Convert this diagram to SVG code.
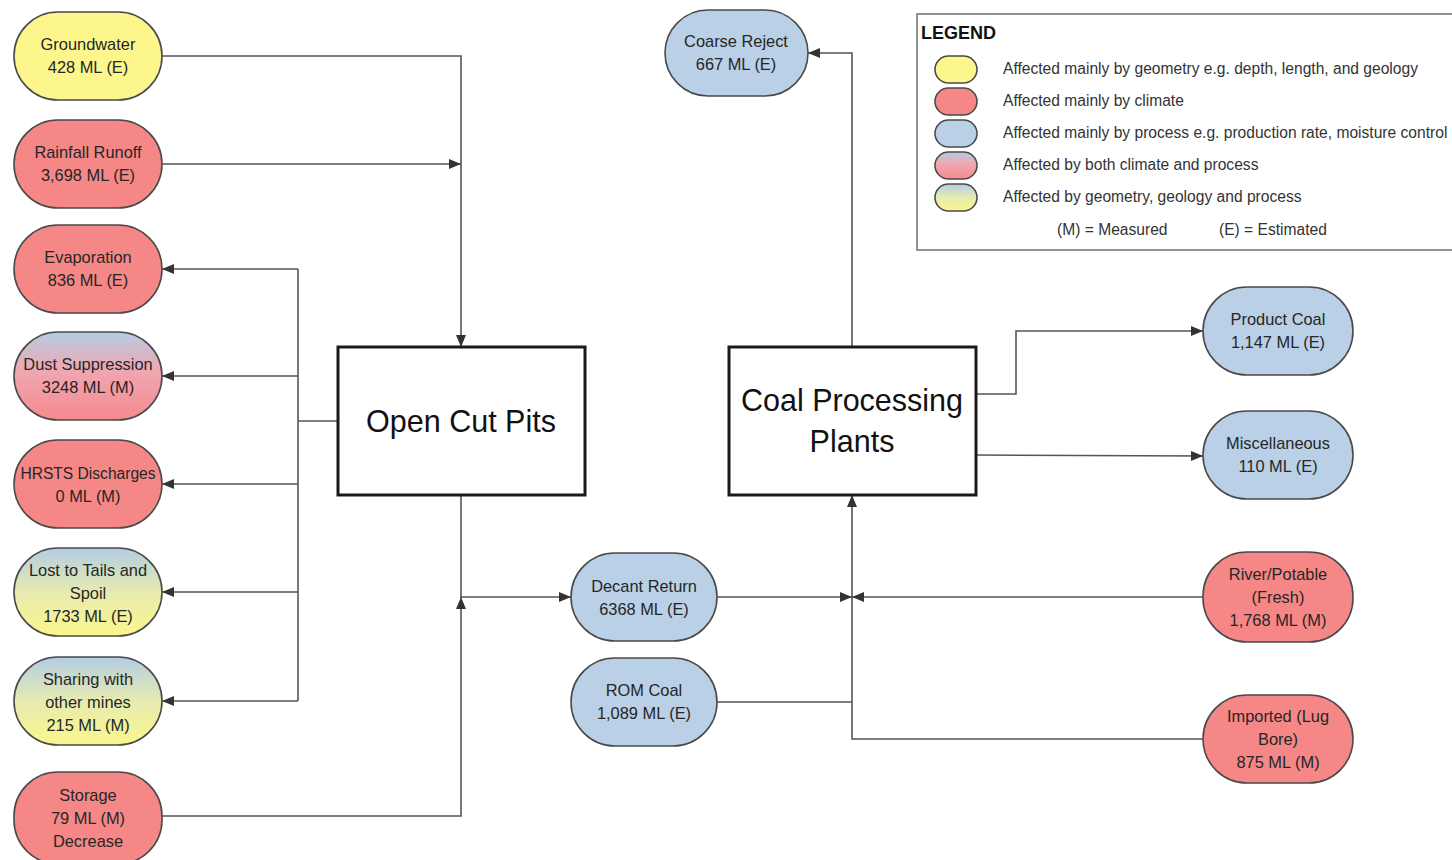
<svg xmlns="http://www.w3.org/2000/svg" width="1452" height="860" viewBox="0 0 1452 860">
  <style>
    .node { stroke: #4a4a4a; stroke-width: 1.6; }
    .yel { fill: #fcf68c; }
    .red { fill: #f58787; }
    .blu { fill: #b9d0e6; }
    .box { fill: #ffffff; stroke: #1a1a1a; stroke-width: 3; }
    .lbl { font-family: "Liberation Sans", Arial, sans-serif; font-size: 16.4px; fill: #262626; text-anchor: middle; }
    .tight { font-size: 15.6px; }
    .big { font-family: "Liberation Sans", Arial, sans-serif; font-size: 30.5px; fill: #111; text-anchor: middle; }
    .leg { font-family: "Liberation Sans", Arial, sans-serif; font-size: 15.6px; fill: #333; }
    .legt { font-family: "Liberation Sans", Arial, sans-serif; font-size: 18px; font-weight: bold; fill: #111; }
    .wire { fill: none; stroke: #555; stroke-width: 1.6; }
  </style>
  <defs>
    <linearGradient id="blueRed" x1="0" y1="0" x2="0" y2="1">
      <stop offset="0" stop-color="#b4cde4"/>
      <stop offset="0.45" stop-color="#f0a6b0"/>
      <stop offset="1" stop-color="#f58a8e"/>
    </linearGradient>
    <linearGradient id="blueYel" x1="0" y1="0" x2="0" y2="1">
      <stop offset="0" stop-color="#b4cde4"/>
      <stop offset="0.5" stop-color="#e6ebb0"/>
      <stop offset="1" stop-color="#fcf68c"/>
    </linearGradient>
    <marker id="arr" viewBox="0 0 12 10" refX="12" refY="5" markerWidth="12" markerHeight="10" orient="auto" markerUnits="userSpaceOnUse">
      <path d="M0,0 L12,5 L0,10 z" fill="#333"/>
    </marker>
  </defs>

  <!-- connectors -->
  <g id="connectors">
    <!-- inflows to Open Cut Pits -->
    <polyline class="wire" points="162,56 461,56 461,347" marker-end="url(#arr)"/>
    <polyline class="wire" points="162,164 461,164" marker-end="url(#arr)"/>
    <!-- outflow bus from Open Cut Pits -->
    <polyline class="wire" points="338,421 298,421"/>
    <polyline class="wire" points="298,269 298,701"/>
    <polyline class="wire" points="298,269 162,269" marker-end="url(#arr)"/>
    <polyline class="wire" points="298,376 162,376" marker-end="url(#arr)"/>
    <polyline class="wire" points="298,484 162,484" marker-end="url(#arr)"/>
    <polyline class="wire" points="298,592 162,592" marker-end="url(#arr)"/>
    <polyline class="wire" points="298,701 162,701" marker-end="url(#arr)"/>
    <!-- storage and pits to decant return -->
    <polyline class="wire" points="162,816 461,816 461,597" marker-end="url(#arr)"/>
    <polyline class="wire" points="461,495 461,600"/>
    <polyline class="wire" points="461,597 571,597" marker-end="url(#arr)"/>
    <!-- inflows to Coal Processing Plants -->
    <polyline class="wire" points="717,597 852,597" marker-end="url(#arr)"/>
    <polyline class="wire" points="1203,597 852,597" marker-end="url(#arr)"/>
    <polyline class="wire" points="717,702 852,702"/>
    <polyline class="wire" points="1203,739 852,739 852,495" marker-end="url(#arr)"/>
    <!-- outflows from Coal Processing Plants -->
    <polyline class="wire" points="852,347 852,53 808,53" marker-end="url(#arr)"/>
    <polyline class="wire" points="976,394 1016,394 1016,331 1203,331" marker-end="url(#arr)"/>
    <polyline class="wire" points="976,455 1203,456" marker-end="url(#arr)"/>
  </g>

  <!-- left-hand flows -->
  <g id="groundwater">
    <rect class="node yel" x="14" y="12" width="148" height="88" rx="44"/>
    <text class="lbl" x="88" y="50">Groundwater</text>
    <text class="lbl" x="88" y="73">428 ML (E)</text>
  </g>
  <g id="rainfall-runoff">
    <rect class="node red" x="14" y="120" width="148" height="88" rx="44"/>
    <text class="lbl" x="88" y="158">Rainfall Runoff</text>
    <text class="lbl" x="88" y="181">3,698 ML (E)</text>
  </g>
  <g id="evaporation">
    <rect class="node red" x="14" y="225" width="148" height="88" rx="44"/>
    <text class="lbl" x="88" y="263">Evaporation</text>
    <text class="lbl" x="88" y="286">836 ML (E)</text>
  </g>
  <g id="dust-suppression">
    <rect class="node" fill="url(#blueRed)" x="14" y="332" width="148" height="88" rx="44"/>
    <text class="lbl" x="88" y="370">Dust Suppression</text>
    <text class="lbl" x="88" y="393">3248 ML (M)</text>
  </g>
  <g id="hrsts-discharges">
    <rect class="node red" x="14" y="440" width="148" height="88" rx="44"/>
    <text class="lbl tight" x="88" y="479">HRSTS Discharges</text>
    <text class="lbl" x="88" y="502">0 ML (M)</text>
  </g>
  <g id="lost-to-tails">
    <rect class="node" fill="url(#blueYel)" x="14" y="548" width="148" height="88" rx="44"/>
    <text class="lbl" x="88" y="576">Lost to Tails and</text>
    <text class="lbl" x="88" y="599">Spoil</text>
    <text class="lbl" x="88" y="622">1733 ML (E)</text>
  </g>
  <g id="sharing">
    <rect class="node" fill="url(#blueYel)" x="14" y="657" width="148" height="88" rx="44"/>
    <text class="lbl" x="88" y="685">Sharing with</text>
    <text class="lbl" x="88" y="708">other mines</text>
    <text class="lbl" x="88" y="731">215 ML (M)</text>
  </g>
  <g id="storage">
    <rect class="node red" x="14" y="772" width="148" height="92" rx="44"/>
    <text class="lbl" x="88" y="801">Storage</text>
    <text class="lbl" x="88" y="824">79 ML (M)</text>
    <text class="lbl" x="88" y="847">Decrease</text>
  </g>

  <!-- main process boxes -->
  <g id="open-cut-pits">
    <rect class="box" x="338" y="347" width="247" height="148"/>
    <text class="big" x="461" y="432">Open Cut Pits</text>
  </g>
  <g id="coal-processing-plants">
    <rect class="box" x="729" y="347" width="247" height="148"/>
    <text class="big" x="852" y="411">Coal Processing</text>
    <text class="big" x="852" y="452">Plants</text>
  </g>

  <!-- central and right-hand flows -->
  <g id="coarse-reject">
    <rect class="node blu" x="665" y="10" width="143" height="86" rx="43"/>
    <text class="lbl" x="736" y="47">Coarse Reject</text>
    <text class="lbl" x="736" y="70">667 ML (E)</text>
  </g>
  <g id="decant-return">
    <rect class="node blu" x="571" y="553" width="146" height="88" rx="44"/>
    <text class="lbl" x="644" y="592">Decant Return</text>
    <text class="lbl" x="644" y="615">6368 ML (E)</text>
  </g>
  <g id="rom-coal">
    <rect class="node blu" x="571" y="658" width="146" height="88" rx="44"/>
    <text class="lbl" x="644" y="696">ROM Coal</text>
    <text class="lbl" x="644" y="719">1,089 ML (E)</text>
  </g>
  <g id="product-coal">
    <rect class="node blu" x="1203" y="287" width="150" height="88" rx="44"/>
    <text class="lbl" x="1278" y="325">Product Coal</text>
    <text class="lbl" x="1278" y="348">1,147 ML (E)</text>
  </g>
  <g id="miscellaneous">
    <rect class="node blu" x="1203" y="411" width="150" height="88" rx="44"/>
    <text class="lbl" x="1278" y="449">Miscellaneous</text>
    <text class="lbl" x="1278" y="472">110 ML (E)</text>
  </g>
  <g id="river-potable">
    <rect class="node red" x="1203" y="552" width="150" height="90" rx="44"/>
    <text class="lbl" x="1278" y="580">River/Potable</text>
    <text class="lbl" x="1278" y="603">(Fresh)</text>
    <text class="lbl" x="1278" y="626">1,768 ML (M)</text>
  </g>
  <g id="imported">
    <rect class="node red" x="1203" y="695" width="150" height="88" rx="44"/>
    <text class="lbl" x="1278" y="722">Imported (Lug</text>
    <text class="lbl" x="1278" y="745">Bore)</text>
    <text class="lbl" x="1278" y="768">875 ML (M)</text>
  </g>

  <!-- legend -->
  <g id="legend">
    <rect x="917" y="14" width="545" height="236" fill="#ffffff" stroke="#777" stroke-width="1.6"/>
    <text class="legt" x="921" y="39">LEGEND</text>
    <rect class="node yel" x="935" y="56" width="42" height="27" rx="13.5"/>
    <text class="leg" x="1003" y="74">Affected mainly by geometry e.g. depth, length, and geology</text>
    <rect class="node red" x="935" y="88" width="42" height="27" rx="13.5"/>
    <text class="leg" x="1003" y="106">Affected mainly by climate</text>
    <rect class="node blu" x="935" y="120" width="42" height="27" rx="13.5"/>
    <text class="leg" x="1003" y="138">Affected mainly by process e.g. production rate, moisture control</text>
    <rect class="node" fill="url(#blueRed)" x="935" y="152" width="42" height="27" rx="13.5"/>
    <text class="leg" x="1003" y="170">Affected by both climate and process</text>
    <rect class="node" fill="url(#blueYel)" x="935" y="184" width="42" height="27" rx="13.5"/>
    <text class="leg" x="1003" y="202">Affected by geometry, geology and process</text>
    <text class="leg" x="1057" y="235">(M) = Measured</text>
    <text class="leg" x="1219" y="235">(E) = Estimated</text>
  </g>
</svg>
